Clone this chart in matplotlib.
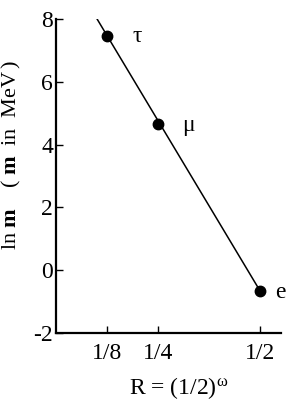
import numpy as np
import matplotlib
matplotlib.use("Agg")
import matplotlib.pyplot as plt

plt.rcParams['font.family'] = ['Liberation Serif', 'DejaVu Serif']
plt.rcParams['mathtext.fontset'] = 'custom'
plt.rcParams['mathtext.rm'] = 'Liberation Serif'
plt.rcParams['mathtext.bf'] = 'Liberation Serif:bold'
plt.rcParams['mathtext.it'] = 'Liberation Serif:italic'
plt.rcParams['axes.unicode_minus'] = False

# data
names = ["\u03c4", "\u03bc", "e"]
R = [1/8, 1/4, 1/2]
lnm = [7.47, 4.66, -0.67]
label_dx = [18, 17, 11]
xticks = [1/8, 1/4, 1/2]
xticklabels = ["1/8", "1/4", "1/2"]
yticks = [-2, 0, 2, 4, 6, 8]

fig = plt.figure(figsize=(2.9, 4.03), dpi=100)
ax = fig.add_axes([0.193, 0.174, 0.776, 0.779])

# straight line through tau and e, drawn up to the top of the axis
slope = (lnm[2] - lnm[0]) / (R[2] - R[0])
r_top = R[0] + (8 - lnm[0]) / slope
ax.plot([r_top, R[2]], [8, lnm[2]], color='black', lw=1.1)
ax.plot(R, lnm, 'o', color='black', ms=7.5)

for n, x, y, dx in zip(names, R, lnm, label_dx):
    ax.annotate(n, (x, y), xytext=(dx, -1), textcoords='offset points',
                fontsize=17, va='center', ha='left')

ax.set_xlim(0, 0.551)
ax.set_ylim(-2, 8)
ax.set_xticks(xticks)
ax.set_xticklabels(xticklabels)
ax.set_yticks(yticks)
ax.tick_params(direction='in', length=5, width=1, labelsize=17)
ax.tick_params(axis='x', pad=7)
ax.tick_params(axis='y', pad=2)

for s in ['top', 'right']:
    ax.spines[s].set_visible(False)
for s in ['left', 'bottom']:
    ax.spines[s].set_linewidth(1.6)

ax.set_ylabel(r'$\mathrm{ln}\ \mathbf{m}\quad\ (\ \mathbf{m}\ \ \mathrm{in}\ \ \mathrm{MeV}\,)$', fontsize=16)
ax.yaxis.set_label_coords(-0.145, 0.565)
ax.set_xlabel(r'R = (1/2)$^{\mathrm{\omega}}$', fontsize=17)
ax.xaxis.set_label_coords(0.545, -0.135)

fig.savefig("out.png", dpi=100)
